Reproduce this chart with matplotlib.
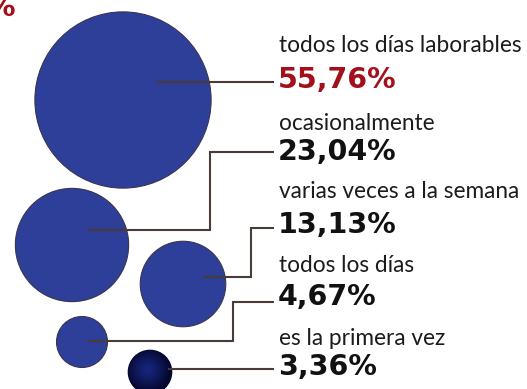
import numpy as np
import matplotlib
matplotlib.use("Agg")
import matplotlib.pyplot as plt
from matplotlib.patches import Circle
from matplotlib import font_manager

# --- data -------------------------------------------------------------
labels = ["todos los días laborables", "ocasionalmente",
          "varias veces a la semana", "todos los días", "es la primera vez"]
values = [55.76, 23.04, 13.13, 4.67, 3.36]
value_text = ["55,76%", "23,04%", "13,13%", "4,67%", "3,36%"]

# --- layout (pixel coordinates, origin top-left) -----------------------
W, H = 527, 389
centers = [(123, 100), (72, 245), (183, 284), (82, 342), (150, 372)]
scale = 11.8                      # radius = scale * sqrt(value)
line_start = [(157, 82), (88, 230), (203, 277), (88, 341), (168, 369)]
elbow_x = [None, 210, 251, 233, None]
line_end_x = 274
label_base = [52, 130, 198, 272, 345]
value_base = [88, 160, 233, 305, 375]
line_y = [82, 152, 228, 302, 369]
text_x = 279

blue = "#2d3f99"
red = "#a3101c"

fams = {f.name for f in font_manager.fontManager.ttflist}
reg_font = "Lato" if "Lato" in fams else "DejaVu Sans"
num_font = "DejaVu Sans"

fig = plt.figure(figsize=(W / 100, H / 100), dpi=100)
ax = fig.add_axes([0, 0, 1, 1])
ax.set_xlim(0, W)
ax.set_ylim(H, 0)
ax.axis("off")

# bubbles, area proportional to the value
for i, (v, (cx, cy)) in enumerate(zip(values, centers)):
    r = scale * np.sqrt(v)
    if i == len(values) - 1:
        # the smallest bubble is shaded dark navy
        circ = Circle((cx, cy), r, facecolor="#0b1350", edgecolor="#060a2c",
                      lw=1.0, zorder=2)
        ax.add_patch(circ)
        yy, xx = np.mgrid[-1:1:200j, -1:1:200j]
        d = np.clip(np.sqrt((xx + 0.1) ** 2 + (yy + 0.1) ** 2), 0, 1)
        c0 = np.array([0.09, 0.15, 0.50])
        c1 = np.array([0.02, 0.03, 0.18])
        w = d[..., None] ** 1.2
        img = c0[None, None, :] * (1 - w) + c1[None, None, :] * w
        im = ax.imshow(img, extent=(cx - r, cx + r, cy + r, cy - r), zorder=3)
        im.set_clip_path(circ)
    else:
        ax.add_patch(Circle((cx, cy), r, facecolor=blue, edgecolor="#3a3550",
                            lw=0.8, zorder=2))

# leader lines
for i in range(len(values)):
    x0, y0 = line_start[i]
    if elbow_x[i] is None:
        xs, ys = [x0, line_end_x], [y0, line_y[i]]
    else:
        xs = [x0, elbow_x[i], elbow_x[i], line_end_x]
        ys = [y0, y0, line_y[i], line_y[i]]
    ax.plot(xs, ys, color="#4a3a38", lw=1.5, solid_capstyle="butt",
            solid_joinstyle="miter", zorder=4)

# labels and values
for i in range(len(values)):
    ax.text(text_x, label_base[i], labels[i], fontsize=16.3, family=reg_font,
            color="#1c1c1c", va="baseline", ha="left", zorder=5)
    ax.text(text_x - 1, value_base[i], value_text[i], fontsize=20.5,
            family=num_font, weight="bold",
            color=red if i == 0 else "#111111", va="baseline", ha="left", zorder=5)

# trailing percent sign of the heading above
ax.text(15, 16, "%", fontsize=20.5, family=num_font, weight="bold",
        color=red, va="baseline", ha="right", zorder=5)

fig.savefig("out.png", dpi=100)
